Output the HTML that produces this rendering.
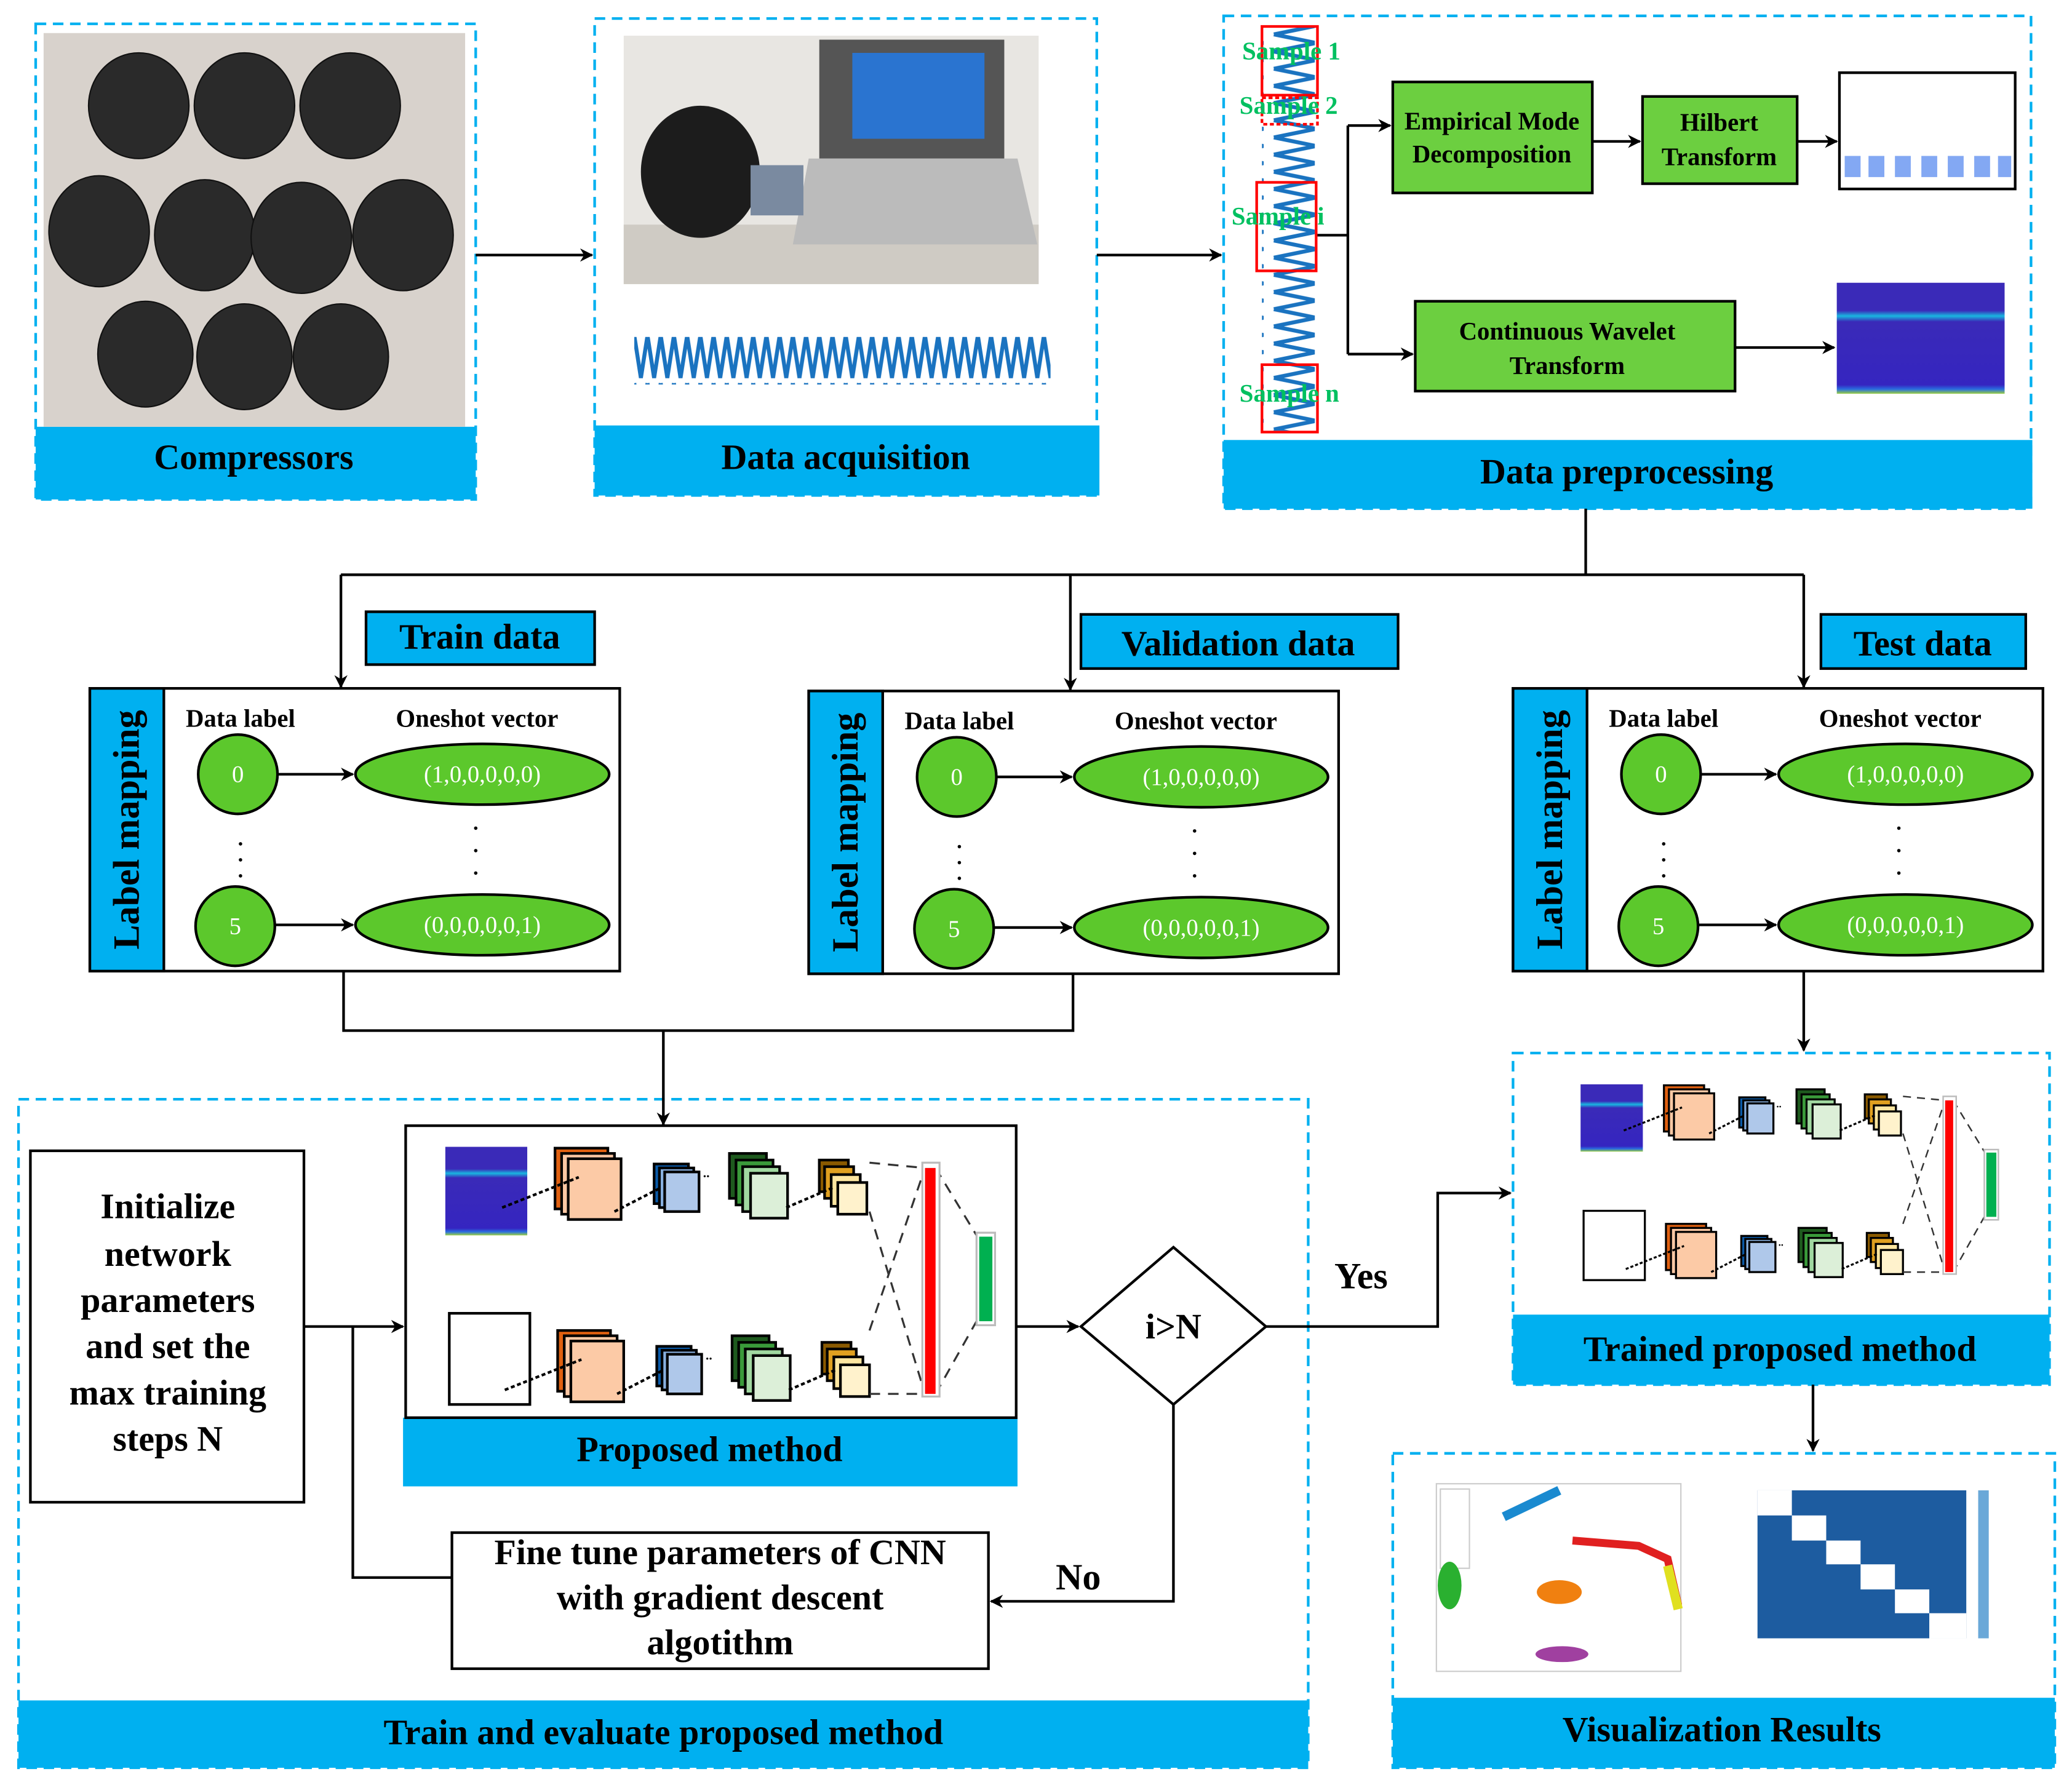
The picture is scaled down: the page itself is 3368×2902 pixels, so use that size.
<!DOCTYPE html>
<html><head><meta charset="utf-8"><style>
html,body{margin:0;padding:0;background:#fff}
svg{display:block}
text{font-family:"Liberation Serif",serif;font-weight:bold}
</style></head><body>
<svg width="3368" height="2902" viewBox="0 0 1568 1351" xmlns="http://www.w3.org/2000/svg">
<defs>
<marker id="ah" markerWidth="10" markerHeight="10" refX="9" refY="5" orient="auto" markerUnits="userSpaceOnUse"><path d="M0,0 L10,5 L0,10 L3,5 z" fill="#000"/></marker>
<pattern id="zh" width="10" height="36" patternUnits="userSpaceOnUse"><path d="M0,2 L5,34 L10,2" fill="none" stroke="#1a73c0" stroke-width="3"/></pattern>
<pattern id="zv" width="40" height="13" patternUnits="userSpaceOnUse"><path d="M4,0 L36,6.5 L4,13" fill="none" stroke="#1a73c0" stroke-width="3"/></pattern>
<linearGradient id="spec" x1="0" y1="0" x2="0" y2="1"><stop offset="0" stop-color="#3a2ab8"/><stop offset="0.25" stop-color="#3a2ab8"/><stop offset="0.3" stop-color="#19b6e0"/><stop offset="0.35" stop-color="#3a2ab8"/><stop offset="0.92" stop-color="#3525c0"/><stop offset="0.96" stop-color="#2a6ee0"/><stop offset="1" stop-color="#9ad040"/></linearGradient>
<g id="cnnrow">
 <rect x="0" y="0" width="40" height="46" fill="#e06010" stroke="#000" stroke-width="2"/>
 <rect x="5" y="4" width="40" height="46" fill="#fcc8a4" stroke="#000" stroke-width="2"/>
 <rect x="10" y="8" width="40" height="46" fill="#fccaa6" stroke="#000" stroke-width="2"/>
 <rect x="75" y="12" width="26" height="30" fill="#0a5aa8" stroke="#000" stroke-width="2"/>
 <rect x="79" y="15" width="26" height="30" fill="#88b0e0" stroke="#000" stroke-width="2"/>
 <rect x="83" y="18" width="26" height="30" fill="#afc8ea" stroke="#000" stroke-width="2"/>
 <text x="112" y="22" font-size="10">..</text>
 <rect x="132" y="4" width="28" height="34" fill="#1e5a1e" stroke="#000" stroke-width="2"/>
 <rect x="137" y="9" width="28" height="34" fill="#3a9a3a" stroke="#000" stroke-width="2"/>
 <rect x="142" y="14" width="28" height="34" fill="#a0d8a0" stroke="#000" stroke-width="2"/>
 <rect x="148" y="19" width="28" height="34" fill="#dcefd8" stroke="#000" stroke-width="2"/>
 <rect x="200" y="9" width="22" height="24" fill="#8a5a00" stroke="#000" stroke-width="2"/>
 <rect x="204" y="14" width="22" height="24" fill="#e0a020" stroke="#000" stroke-width="2"/>
 <rect x="209" y="20" width="22" height="24" fill="#fde6a0" stroke="#000" stroke-width="2"/>
 <rect x="214" y="26" width="22" height="24" fill="#fff2cc" stroke="#000" stroke-width="2"/>
 <path d="M-40,45 L18,22 M45,48 L80,30 M175,45 L210,30" stroke="#000" stroke-width="2" stroke-dasharray="3,2"/>
</g>
<g id="cnn">
 <rect x="337" y="868" width="62" height="67" fill="url(#spec)"/>
 <use href="#cnnrow" x="420" y="869"/>
 <rect x="340" y="994" width="61" height="69" fill="#fff" stroke="#000" stroke-width="2"/>
 <use href="#cnnrow" x="422" y="1007"/>
 <path d="M658,880 L700,884 M658,1055 L700,1055 M658,917 L700,1055 M658,1007 L700,884 M708,884 L739,935 M708,1055 L739,1000" stroke="#333" stroke-width="1.5" stroke-dasharray="8,6" fill="none"/>
 <rect x="698" y="880" width="13" height="177" fill="#fff" stroke="#bbb" stroke-width="1.5"/>
 <rect x="700" y="884" width="8" height="171" fill="#ff0000"/>
 <rect x="739" y="933" width="14" height="70" fill="#fff" stroke="#bbb" stroke-width="1.5"/>
 <rect x="741" y="936" width="10" height="64" fill="#00b050"/>
</g>
</defs>

<g fill="none" stroke="#00b0f0" stroke-width="2" stroke-dasharray="8,5">
<rect x="27" y="18" width="333" height="360"/>
<rect x="450" y="14" width="380" height="361"/>
<rect x="926" y="12" width="611" height="373"/>
<rect x="14" y="832" width="976" height="506"/>
<rect x="1145" y="797" width="406" height="251"/>
<rect x="1054" y="1100" width="501" height="238"/>
</g>
<g fill="#00b0f0">
<rect x="27" y="323" width="333" height="55"/>
<rect x="450" y="322" width="382" height="53"/>
<rect x="926" y="333" width="612" height="52"/>
<rect x="14" y="1287" width="976" height="51"/>
<rect x="305" y="1073" width="465" height="52"/>
<rect x="1145" y="995" width="406" height="53"/>
<rect x="1054" y="1285" width="501" height="53"/>
</g>
<g font-size="27" text-anchor="middle" fill="#000">
<text x="192" y="355">Compressors</text>
<text x="640" y="355">Data acquisition</text>
<text x="1231" y="366">Data preprocessing</text>
<text x="502" y="1320">Train and evaluate proposed method</text>
<text x="537" y="1106">Proposed method</text>
<text x="1347" y="1030">Trained proposed method</text>
<text x="1303" y="1318">Visualization Results</text>
</g>

<!-- photos -->
<rect x="33" y="25" width="319" height="298" fill="#d8d2cc"/>
<g fill="#2a2a2a" stroke="#111">
<ellipse cx="105" cy="80" rx="38" ry="40"/><ellipse cx="185" cy="80" rx="38" ry="40"/><ellipse cx="265" cy="80" rx="38" ry="40"/>
<ellipse cx="75" cy="175" rx="38" ry="42"/><ellipse cx="155" cy="178" rx="38" ry="42"/><ellipse cx="228" cy="180" rx="38" ry="42"/><ellipse cx="305" cy="178" rx="38" ry="42"/>
<ellipse cx="110" cy="268" rx="36" ry="40"/><ellipse cx="185" cy="270" rx="36" ry="40"/><ellipse cx="258" cy="270" rx="36" ry="40"/>
</g>
<rect x="472" y="27" width="314" height="188" fill="#e8e6e2"/>
<rect x="472" y="170" width="314" height="45" fill="#cfcbc4"/>
<ellipse cx="530" cy="130" rx="45" ry="50" fill="#1c1c1c"/>
<rect x="620" y="30" width="140" height="90" fill="#555"/><rect x="645" y="40" width="100" height="65" fill="#2a74d0"/>
<polygon points="612,120 770,120 785,185 600,185" fill="#bbb"/>
<rect x="568" y="125" width="40" height="38" fill="#7a8aa0"/>
<rect x="480" y="255" width="315" height="36" fill="url(#zh)"/>

<!-- preprocessing -->
<rect x="955" y="20" width="40" height="306" fill="url(#zv)"/>
<g fill="none" stroke="#f00" stroke-width="2">
<rect x="955" y="20" width="42" height="52"/>
<rect x="955" y="74" width="42" height="20" stroke-dasharray="3,2"/>
<rect x="951" y="138" width="45" height="67"/>
<rect x="955" y="276" width="42" height="51"/>
</g>
<g font-size="19" fill="#00c060">
<text x="940" y="45">Sample 1</text>
<text x="938" y="86">Sample 2</text>
<text x="932" y="170">Sample i</text>
<text x="938" y="304">Sample n</text>
</g>
<g stroke="#000" stroke-width="2" fill="none">
<path d="M997,178 L1020,178 M1020,95 L1020,268"/>
<path d="M1020,95 L1052,95" marker-end="url(#ah)"/>
<path d="M1020,268 L1069,268" marker-end="url(#ah)"/>
<path d="M1205,107 L1241,107" marker-end="url(#ah)"/>
<path d="M1360,107 L1390,107" marker-end="url(#ah)"/>
<path d="M1313,263 L1388,263" marker-end="url(#ah)"/>
</g>
<g fill="#6ccf40" stroke="#000" stroke-width="2">
<rect x="1054" y="62" width="151" height="84"/>
<rect x="1243" y="73" width="117" height="66"/>
<rect x="1071" y="228" width="242" height="68"/>
</g>
<g font-size="19" text-anchor="middle">
<text x="1129" y="98">Empirical Mode</text><text x="1129" y="123">Decomposition</text>
<text x="1301" y="99">Hilbert</text><text x="1301" y="125">Transform</text>
<text x="1186" y="257">Continuous Wavelet</text><text x="1186" y="283">Transform</text>
</g>
<rect x="1392" y="55" width="133" height="88" fill="#fff" stroke="#000" stroke-width="2"/>
<g fill="#5a8cf0" opacity="0.75">
<rect x="1396" y="118" width="12" height="16"/><rect x="1414" y="118" width="12" height="16"/><rect x="1434" y="118" width="12" height="16"/><rect x="1454" y="118" width="12" height="16"/><rect x="1474" y="118" width="12" height="16"/><rect x="1494" y="118" width="12" height="16"/><rect x="1512" y="118" width="10" height="16"/>
</g>
<rect x="1390" y="214" width="127" height="84" fill="url(#spec)"/>

<!-- main connectors -->
<g stroke="#000" stroke-width="2" fill="none">
<path d="M360,193 L448,193" marker-end="url(#ah)"/>
<path d="M830,193 L924,193" marker-end="url(#ah)"/>
<path d="M1200,385 L1200,435 M258,435 L1365,435"/>
<path d="M258,435 L258,520" marker-end="url(#ah)"/>
<path d="M810,435 L810,522" marker-end="url(#ah)"/>
<path d="M1365,435 L1365,520" marker-end="url(#ah)"/>
<path d="M260,735 L260,780 L812,780 L812,735"/>
<path d="M502,780 L502,851" marker-end="url(#ah)"/>
<path d="M1365,735 L1365,795" marker-end="url(#ah)"/>
<path d="M1372,1048 L1372,1098" marker-end="url(#ah)"/>
<path d="M230,1004 L305,1004" marker-end="url(#ah)"/>
<path d="M267,1004 L267,1194 L343,1194"/>
<path d="M769,1004 L816,1004" marker-end="url(#ah)"/>
<path d="M958,1004 L1088,1004 L1088,903 L1143,903" marker-end="url(#ah)"/>
<path d="M888,1063 L888,1212 L750,1212" marker-end="url(#ah)"/>
</g>

<!-- data labels -->
<g fill="#00b0f0" stroke="#000" stroke-width="2">
<rect x="277" y="463" width="173" height="40"/>
<rect x="818" y="465" width="240" height="41"/>
<rect x="1378" y="465" width="155" height="41"/>
</g>
<g font-size="27" text-anchor="middle">
<text x="363" y="491">Train data</text>
<text x="937" y="496">Validation data</text>
<text x="1455" y="496">Test data</text>
</g>

<!-- label mapping boxes -->
<g id="lm1">
<rect x="68" y="521" width="401" height="214" fill="#fff" stroke="#000" stroke-width="2"/>
<rect x="68" y="521" width="56" height="214" fill="#00b0f0" stroke="#000" stroke-width="2"/>
<text transform="translate(105,628) rotate(-90)" font-size="28" text-anchor="middle">Label mapping</text>
<text x="182" y="550" font-size="19" text-anchor="middle">Data label</text>
<text x="361" y="550" font-size="19" text-anchor="middle">Oneshot vector</text>
<g fill="#5cc82c" stroke="#000" stroke-width="2">
<circle cx="180" cy="586" r="30"/><circle cx="178" cy="701" r="30"/>
<ellipse cx="365" cy="586" rx="96" ry="23"/><ellipse cx="365" cy="700" rx="96" ry="23"/>
</g>
<g fill="#fff" font-size="18" text-anchor="middle">
<text x="180" y="592" style="font-weight:normal">0</text><text x="178" y="707" style="font-weight:normal">5</text>
<text x="365" y="592" style="font-weight:normal">(1,0,0,0,0,0)</text><text x="365" y="706" style="font-weight:normal">(0,0,0,0,0,1)</text>
</g>
<path d="M210,586 L267,586" stroke="#000" stroke-width="2" marker-end="url(#ah)"/>
<path d="M208,700 L267,700" stroke="#000" stroke-width="2" marker-end="url(#ah)"/>
<text x="182" y="640" font-size="16" text-anchor="middle">.</text><text x="182" y="652" font-size="16" text-anchor="middle">.</text><text x="182" y="664" font-size="16" text-anchor="middle">.</text>
<text x="360" y="628" font-size="16" text-anchor="middle">.</text><text x="360" y="645" font-size="16" text-anchor="middle">.</text><text x="360" y="662" font-size="16" text-anchor="middle">.</text>
</g>
<use href="#lm1" x="544" y="2"/>
<use href="#lm1" x="1077" y="0"/>

<!-- init & fine tune -->
<rect x="23" y="871" width="207" height="266" fill="#fff" stroke="#000" stroke-width="2"/>
<g font-size="27" text-anchor="middle">
<text x="127" y="922">Initialize</text><text x="127" y="958">network</text><text x="127" y="993">parameters</text>
<text x="127" y="1028">and set the</text><text x="127" y="1063">max training</text><text x="127" y="1098">steps N</text>
</g>
<rect x="342" y="1160" width="406" height="103" fill="#fff" stroke="#000" stroke-width="2"/>
<g font-size="27" text-anchor="middle">
<text x="545" y="1184">Fine tune parameters of CNN</text>
<text x="545" y="1218">with gradient descent</text>
<text x="545" y="1252">algotithm</text>
</g>
<rect x="307" y="852" width="462" height="221" fill="#fff" stroke="#000" stroke-width="2"/>
<use href="#cnn"/>
<polygon points="818,1004 888,944 958,1004 888,1063" fill="#fff" stroke="#000" stroke-width="2"/>
<text x="888" y="1013" font-size="27" text-anchor="middle">i&gt;N</text>
<text x="1030" y="975" font-size="28" text-anchor="middle">Yes</text>
<text x="816" y="1203" font-size="28" text-anchor="middle">No</text>

<!-- trained -->
<g transform="translate(940,161) scale(0.76)"><use href="#cnn"/></g>

<!-- visualization -->
<rect x="1087" y="1123" width="185" height="142" fill="#fff" stroke="#ccc"/>
<rect x="1090" y="1127" width="22" height="60" fill="#fff" stroke="#ccc"/>
<g fill="#2ab030"><ellipse cx="1097" cy="1200" rx="9" ry="18"/></g>
<path d="M1138,1148 L1180,1128" stroke="#1a8ad0" stroke-width="7"/>
<path d="M1190,1166 L1240,1170 L1262,1180 L1270,1215" stroke="#e02020" stroke-width="6" fill="none"/>
<path d="M1262,1185 L1270,1218" stroke="#e0e020" stroke-width="7"/>
<ellipse cx="1180" cy="1205" rx="17" ry="9" fill="#f08010"/>
<ellipse cx="1182" cy="1252" rx="20" ry="6" fill="#a040a0"/>
<rect x="1330" y="1128" width="158" height="112" fill="#1d5ca0"/>
<g fill="#fff"><rect x="1330" y="1128" width="26" height="19"/><rect x="1356" y="1147" width="26" height="19"/><rect x="1382" y="1166" width="26" height="18"/><rect x="1408" y="1184" width="26" height="19"/><rect x="1434" y="1203" width="26" height="18"/><rect x="1460" y="1221" width="28" height="19"/></g>
<rect x="1497" y="1128" width="8" height="112" fill="#6aa8d8"/>
</svg>
</body></html>
